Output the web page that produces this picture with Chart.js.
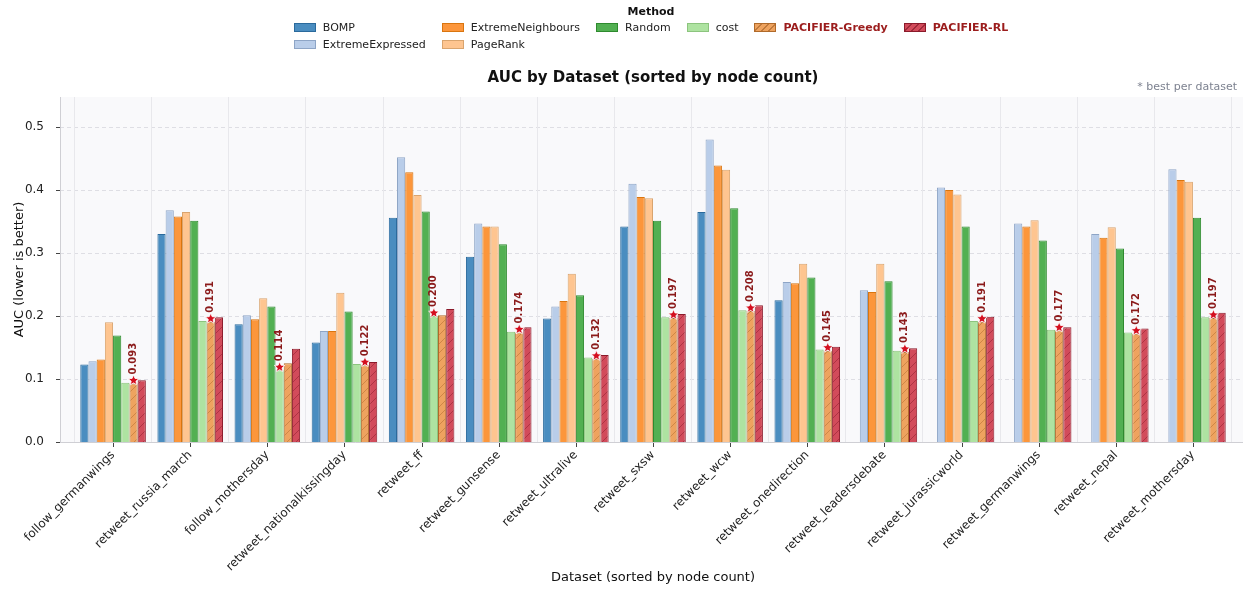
<!DOCTYPE html>
<html>
<head>
<meta charset="utf-8">
<script src="https://cdn.jsdelivr.net/npm/chart.js@4.4.1/dist/chart.umd.min.js"></script>
<style>
  html, body { margin: 0; padding: 0; background: #fff; }
  #wrap { position: relative; width: 1247px; height: 590px; font-family: 'DejaVu Sans', sans-serif; }
  #legend { position: absolute; top: 5px; left: 0; width: 1302px; text-align: center; color: #222; font-size: 11px; }
  #legend .ttl { font-weight: bold; line-height: 13px; margin-bottom: 3px; color: #111; }
  #legend .grid { display: inline-grid; grid-template-columns: repeat(6, auto); row-gap: 4px; column-gap: 16px; text-align: left; }
  #legend .item { line-height: 13px; white-space: nowrap; }
  #legend .sw { display: inline-block; width: 22px; height: 9px; box-sizing: border-box; border: 1px solid; vertical-align: -1px; margin-right: 7px; }
  #legend .hl { font-weight: bold; color: #9b1c1c; }
</style>
</head>
<body>
<div id="wrap">
  <canvas id="c" width="1247" height="590"></canvas>
  <div id="legend"><div class="ttl">Method</div><div class="grid" id="lg"></div></div>
</div>
<script>
// datasets sorted by node count
var datasetNames = ['follow_germanwings', 'retweet_russia_march', 'follow_mothersday', 'retweet_nationalkissingday',
  'retweet_ff', 'retweet_gunsense', 'retweet_ultralive', 'retweet_sxsw', 'retweet_wcw', 'retweet_onedirection',
  'retweet_leadersdebate', 'retweet_jurassicworld', 'retweet_germanwings', 'retweet_nepal', 'retweet_mothersday'];

var methods = ['BOMP', 'ExtremeExpressed', 'ExtremeNeighbours', 'PageRank', 'Random', 'cost', 'PACIFIER-Greedy', 'PACIFIER-RL'];

var bomp        = [0.123, 0.330, 0.187, 0.158, 0.356, 0.294, 0.196, 0.342, 0.365, 0.225, null, null, null, null, null];
var extremeExp  = [0.128, 0.368, 0.201, 0.176, 0.452, 0.347, 0.215, 0.410, 0.480, 0.254, 0.241, 0.404, 0.347, 0.330, 0.433];
var extremeNb   = [0.131, 0.358, 0.195, 0.176, 0.428, 0.342, 0.224, 0.389, 0.439, 0.252, 0.238, 0.400, 0.342, 0.324, 0.416];
var pageRank    = [0.190, 0.365, 0.228, 0.237, 0.392, 0.342, 0.267, 0.387, 0.432, 0.283, 0.283, 0.393, 0.352, 0.341, 0.413];
var random      = [0.169, 0.351, 0.215, 0.207, 0.366, 0.314, 0.233, 0.351, 0.371, 0.261, 0.255, 0.342, 0.320, 0.307, 0.356];
var cost        = [0.094, 0.192, 0.114, 0.124, 0.200, 0.175, 0.134, 0.198, 0.209, 0.147, 0.145, 0.192, 0.178, 0.174, 0.198];
var pacGreedy   = [0.093, 0.191, 0.125, 0.122, 0.201, 0.174, 0.132, 0.197, 0.208, 0.145, 0.143, 0.191, 0.177, 0.172, 0.197];
var pacRL       = [0.098, 0.198, 0.148, 0.127, 0.211, 0.182, 0.138, 0.203, 0.217, 0.151, 0.149, 0.199, 0.182, 0.180, 0.205];

var series = [bomp, extremeExp, extremeNb, pageRank, random, cost, pacGreedy, pacRL];
var yMax = 0.5476;

var fills   = ['#4a8dc0', '#b9cde9', '#fc963b', '#fec590', '#52b052', '#aee3a1', '#eea35f', '#d24b5b'];
var edges   = ['#2a6a9c', '#8ea5c6', '#d9750f', '#d9a46e', '#2e8a2e', '#8cc47e', '#b06a2a', '#8b1a2a'];
var hatchLn = [null, null, null, null, null, null, '#c07a3c', '#9e2a3a'];

var ctx = document.getElementById('c').getContext('2d');

function hatch(fill, line) {
  var s = 9;
  var c = document.createElement('canvas');
  c.width = s; c.height = s;
  var g = c.getContext('2d');
  g.fillStyle = fill;
  g.fillRect(0, 0, s, s);
  g.strokeStyle = line;
  g.lineWidth = 0.7;
  g.beginPath();
  g.moveTo(0, s); g.lineTo(s, 0);
  g.moveTo(-1, 1); g.lineTo(1, -1);
  g.moveTo(s - 1, s + 1); g.lineTo(s + 1, s - 1);
  g.stroke();
  return ctx.createPattern(c, 'repeat');
}

var chartDatasets = [];
for (var k = 0; k < methods.length; k++) {
  chartDatasets.push({
    label: methods[k],
    data: series[k],
    backgroundColor: hatchLn[k] ? hatch(fills[k], hatchLn[k]) : fills[k],
    borderColor: edges[k],
    borderWidth: 1,
    categoryPercentage: 0.85,
    barPercentage: 1.0
  });
}

// legend, laid out column-major like the original (6 columns)
function buildLegend() {
  var lg = document.getElementById('lg');
  var ncol = 6, n = methods.length;
  var nrows = Math.ceil(n / ncol), big = n % ncol || ncol;
  var idx = 0;
  for (var col = 0; col < ncol; col++) {
    var rows = col < big ? nrows : nrows - 1;
    for (var r = 0; r < rows; r++) {
      var k = idx++;
      var it = document.createElement('div');
      it.className = 'item';
      it.style.gridColumn = (col + 1);
      it.style.gridRow = (r + 1);
      var sw = document.createElement('span');
      sw.className = 'sw';
      sw.style.borderColor = edges[k];
      sw.style.background = hatchLn[k]
        ? 'repeating-linear-gradient(135deg, ' + fills[k] + ' 0 4px, ' + hatchLn[k] + ' 4px 5px)'
        : fills[k];
      var tx = document.createElement('span');
      tx.textContent = methods[k];
      if (hatchLn[k]) tx.className = 'hl';
      it.appendChild(sw);
      it.appendChild(tx);
      lg.appendChild(it);
    }
  }
}
buildLegend();

function bestIndex(i) {
  var best = -1, v = Infinity;
  for (var k = 0; k < series.length; k++) {
    var s = series[k][i];
    if (s !== null && s < v) { v = s; best = k; }
  }
  return best;
}

function star(g, x, y, r) {
  g.beginPath();
  for (var j = 0; j < 10; j++) {
    var rad = j % 2 === 0 ? r : r * 0.45;
    var a = -Math.PI / 2 + j * Math.PI / 5;
    var px = x + rad * Math.cos(a), py = y + rad * Math.sin(a);
    if (j === 0) g.moveTo(px, py); else g.lineTo(px, py);
  }
  g.closePath();
}

var extras = {
  id: 'extras',
  beforeDraw: function (chart) {
    var g = chart.ctx, a = chart.chartArea, y = chart.scales.y;
    var L = a.left - 14.5, R = a.right + 11.5;
    g.save();
    g.fillStyle = '#f9f9fb';
    g.fillRect(L, a.top, R - L, a.bottom - a.top);
    g.strokeStyle = '#dedee4';
    g.lineWidth = 1;
    g.setLineDash([4, 3]);
    y.ticks.forEach(function (t) {
      if (t.value === 0) return;
      var py = Math.round(y.getPixelForValue(t.value)) + 0.5;
      g.beginPath(); g.moveTo(L, py); g.lineTo(R, py); g.stroke();
    });
    g.restore();
  },
  afterDatasetsDraw: function (chart) {
    var g = chart.ctx;
    g.save();
    for (var i = 0; i < datasetNames.length; i++) {
      var k = bestIndex(i);
      if (k < 0) continue;
      var bar = chart.getDatasetMeta(k).data[i];
      var sx = bar.x, sy = bar.y - 3;
      star(g, sx, sy, 5.5);
      g.fillStyle = '#d40f1f';
      g.fill();
      g.strokeStyle = '#ffffff';
      g.lineWidth = 0.8;
      g.stroke();
      g.save();
      g.translate(sx, sy - 6);
      g.rotate(-Math.PI / 2);
      g.font = 'bold 10px "DejaVu Sans"';
      g.fillStyle = '#8b1a1a';
      g.textAlign = 'left';
      g.textBaseline = 'middle';
      g.fillText(series[k][i].toFixed(3), 0, 0);
      g.restore();
    }
    g.restore();
  },
  afterDraw: function (chart) {
    var g = chart.ctx, a = chart.chartArea, x = chart.scales.x, y = chart.scales.y;
    var L = a.left - 14.5, R = a.right + 11.5;
    g.save();
    g.strokeStyle = '#cfcfd4';
    g.lineWidth = 1;
    g.beginPath();
    g.moveTo(L + 0.5, a.top); g.lineTo(L + 0.5, a.bottom);
    g.moveTo(L, a.bottom + 0.5); g.lineTo(R, a.bottom + 0.5);
    g.stroke();
    g.strokeStyle = '#444';
    g.beginPath();
    for (var i = 0; i < datasetNames.length; i++) {
      var px = Math.round(x.getPixelForValue(i)) + 0.5;
      g.moveTo(px, a.bottom + 1); g.lineTo(px, a.bottom + 5);
    }
    y.ticks.forEach(function (t) {
      var py = Math.round(y.getPixelForValue(t.value)) + 0.5;
      g.moveTo(L - 4, py); g.lineTo(L, py);
    });
    g.stroke();
    g.font = '11px "DejaVu Sans"';
    g.fillStyle = '#7d8290';
    g.textAlign = 'right';
    g.textBaseline = 'middle';
    g.fillText('* best per dataset', R - 6, a.top - 10);
    g.restore();
  }
};

new Chart(document.getElementById('c'), {
  type: 'bar',
  data: {
    labels: datasetNames,
    datasets: chartDatasets
  },
  options: {
    responsive: false,
    animation: false,
    devicePixelRatio: 1,
    layout: { padding: { left: 8, right: 15.5, top: 0, bottom: 0 } },
    plugins: {
      legend: { display: false },
      tooltip: { enabled: false },
      title: {
        display: true,
        fullSize: false,
        text: 'AUC by Dataset (sorted by node count)',
        color: '#111',
        font: { family: 'DejaVu Sans', size: 15, weight: 'bold' },
        padding: { top: 69, bottom: 10 }
      }
    },
    scales: {
      x: {
        type: 'category',
        grid: { display: true, offset: true, color: '#e8e8ec', lineWidth: 1, drawTicks: false },
        border: { display: false },
        ticks: {
          autoSkip: false, minRotation: 45, maxRotation: 45, padding: 6,
          color: '#222', font: { family: 'DejaVu Sans', size: 12 }
        },
        title: {
          display: true, text: 'Dataset (sorted by node count)', color: '#111',
          font: { family: 'DejaVu Sans', size: 13 }, padding: { top: 4, bottom: 5 }
        },
        afterFit: function (s) { s.height = 148; }
      },
      y: {
        min: 0,
        max: yMax,
        grid: { display: false },
        border: { display: false },
        ticks: {
          stepSize: 0.1, includeBounds: false, padding: 22.5,
          color: '#222', font: { family: 'DejaVu Sans', size: 12 },
          callback: function (v) { return v.toFixed(1); }
        },
        title: {
          display: true, text: 'AUC (lower is better)', color: '#111',
          font: { family: 'DejaVu Sans', size: 13 }, padding: { top: 4, bottom: 4 }
        },
        afterFit: function (s) { s.width = 66.5; }
      }
    }
  },
  plugins: [extras]
});
</script>
</body>
</html>
